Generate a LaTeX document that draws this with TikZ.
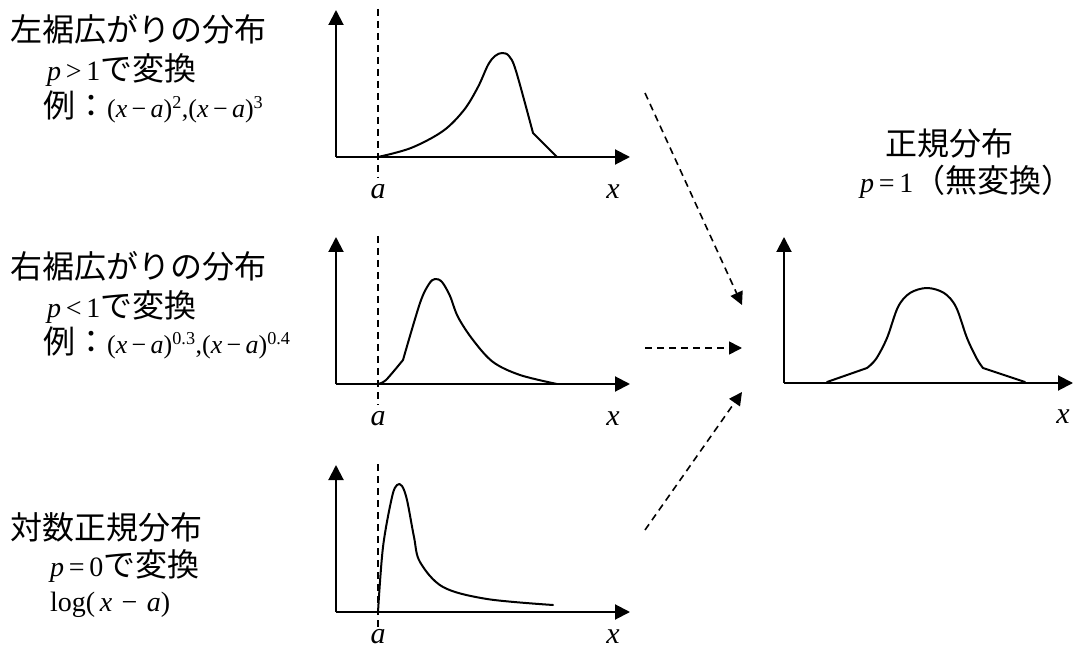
\documentclass[tikz,border=0pt]{standalone}
\usepackage{fontspec}
\setmainfont{Liberation Serif}
\newfontfamily\jp{Noto Sans CJK JP}
\usetikzlibrary{arrows.meta}

\begin{document}
\begin{tikzpicture}[x=1pt,y=-1pt,
	axis/.style={line width=2pt,-{Triangle[length=15pt,width=15pt]}},
	curve/.style={line width=2pt,line cap=round,line join=round},
	guide/.style={line width=2pt,dash pattern=on 7pt off 5pt},
	flow/.style={line width=1.6pt,dash pattern=on 7pt off 5pt,-{Triangle[length=13pt,width=13pt]}},
	lbl/.style={anchor=west,inner sep=0pt,font=\fontsize{32}{38}\selectfont},
	axlbl/.style={inner sep=0pt,font=\fontsize{30}{36}\selectfont\itshape}]
	\useasboundingbox (0,0) rectangle (1074,652);
	\def\lat#1{{\fontsize{28}{32}\selectfont #1}}
	\def\mth#1{{\fontsize{26}{30}\selectfont #1}}
	\def\ax#1#2#3{\draw[axis] (0,0) -- (294,0); \draw[axis] (0,0) -- (0,-147);
		\draw[guide] (42,-148) -- (42,#3);
		\node[axlbl] (#1a) at (42,#2) {a}; \node[axlbl] (#1x) at (277,#2) {x};}
	% left skew
	\begin{scope}[shift={(336,157)}]
		\ax{l}{35}{21}
		\draw[curve] plot[smooth,tension=0.55] coordinates {(42,0) (75,-9) (107,-26) (128,-47) (142,-70) (152,-92) (159,-101) (166,-104) (173,-101) (180,-86) (197,-24)} -- (221,0);
	\end{scope}
	\node[lbl] (ltitle) at (10,29) {\jp 左裾広がりの分布};
	\node[lbl] (lrule) at (47,70) {\lat{\textit{p}\,>\,1}{\jp で変換}};
	\node[lbl] (lex) at (43,107) {{\jp 例：}\mth{(\textit{x}\,−\,\textit{a})\textsuperscript{2},(\textit{x}\,−\,\textit{a})\textsuperscript{3}}};
	% right skew
	\begin{scope}[shift={(336,384)}]
		\ax{r}{35}{21}
		\draw[curve] plot[smooth] coordinates {(42,0) (50,-4) (67,-24)}
			plot[smooth,tension=0.55] coordinates {(67,-24) (84,-81) (93,-100) (99,-105) (106,-102) (114,-88) (122,-67) (137,-44) (157,-22) (184,-9) (221,0)};
	\end{scope}
	\node[lbl] (rtitle) at (10,266) {\jp 右裾広がりの分布};
	\node[lbl] (rrule) at (47,307) {\lat{\textit{p}\,<\,1}{\jp で変換}};
	\node[lbl] (rex) at (43,343) {{\jp 例：}\mth{(\textit{x}\,−\,\textit{a})\textsuperscript{0.3},(\textit{x}\,−\,\textit{a})\textsuperscript{0.4}}};
	% log-normal
	\begin{scope}[shift={(336,612)}]
		\ax{g}{25}{15}
		\draw[curve] plot[smooth,tension=0.55] coordinates {(42,0) (47,-65) (56,-115) (61,-127) (66,-126) (71,-112) (78,-75) (84,-50) (107,-25) (151,-13) (217,-7)};
	\end{scope}
	\node[lbl] (gtitle) at (10,527) {\jp 対数正規分布};
	\node[lbl] (grule) at (50,566) {\lat{\textit{p}\,=\,0}{\jp で変換}};
	\node[lbl] (gex) at (50,605) {\lat{log(\,\textit{x}\,\,−\,\,\textit{a})}};
	% normal
	\begin{scope}[shift={(784,383)}]
		\draw[axis] (0,0) -- (289,0); \draw[axis] (0,0) -- (0,-146);
		\node[axlbl] (nx) at (279,34) {x};
		\draw[curve] (43,-1) -- (83,-15) plot[smooth,tension=0.55] coordinates {(83,-15) (92,-24) (103,-45) (114,-76) (126,-90) (143,-95) (160,-90) (172,-76) (183,-45) (193,-24) (199,-15)} -- (241,-1);
	\end{scope}
	\node[lbl] (ntitle) at (885,143) {\jp 正規分布};
	\node[lbl] (nrule) at (860,182) {\lat{\textit{p}\,=\,1}{\jp （無変換）}};
	% transforms
	\coordinate (s1) at (645,93); \coordinate (t1) at (742,305);
	\coordinate (s2) at (645,348); \coordinate (t2) at (742,348);
	\coordinate (s3) at (645,530); \coordinate (t3) at (742,392);
	\draw[flow] (s1) -- (t1);
	\draw[flow] (s2) -- (t2);
	\draw[flow] (s3) -- (t3);
\end{tikzpicture}
\end{document}
